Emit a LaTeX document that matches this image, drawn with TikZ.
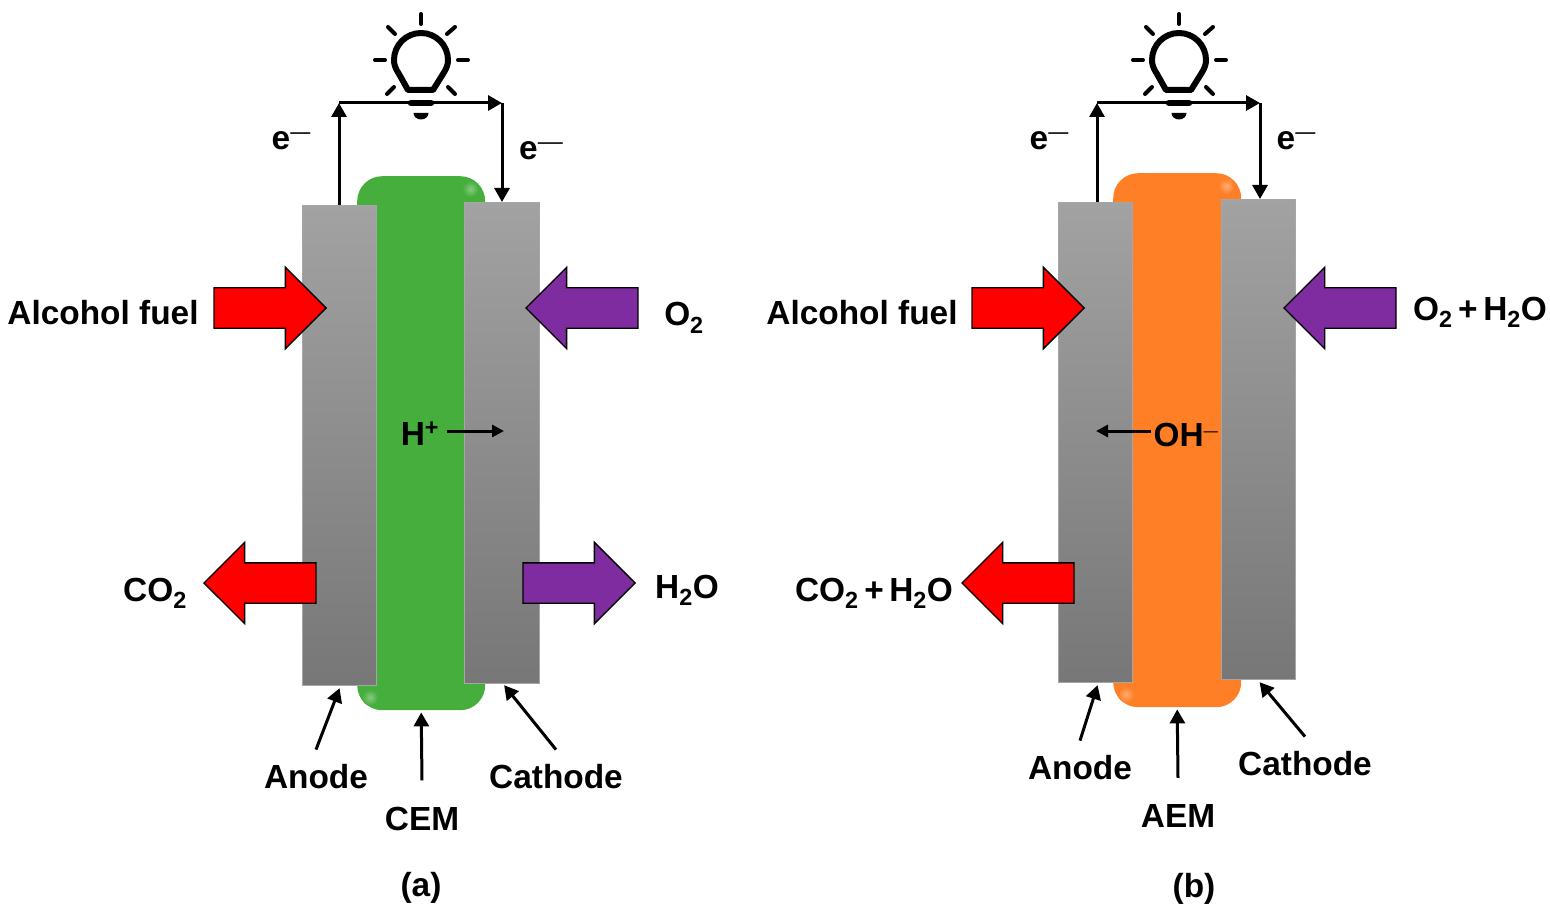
\documentclass[tikz,border=0pt]{standalone}
\usepackage{fontspec}
\setmainfont{Liberation Sans}
\usetikzlibrary{arrows.meta,shapes.arrows,calc}
\newcommand{\emin}{\raisebox{.3em}{\fontseries{m}\selectfont\scalebox{.6}[.7]{—}}}
\newcommand{\ebig}{\raisebox{.3em}{\fontseries{m}\selectfont\scalebox{.75}[.7]{—}}}
\newcommand{\bulb}[2]{%
 \begin{scope}[shift={(#1,#2)}]
  \draw[bulbline,line width=6pt,line join=round] (-13,30) -- (12,30) -- (22,14) .. controls (26,8) and (27,4) .. (27,0) arc[start angle=0,end angle=-180,radius=27] .. controls (-27,4) and (-26,8) .. (-22,14) -- cycle;
  \draw[bulbline] (0,-46) -- (0,-36);
  \draw[bulbline] (-46,0) -- (-36,0);
  \draw[bulbline] (37,0) -- (47,0);
  \draw[bulbline] (-33,-33) -- (-26,-26);
  \draw[bulbline] (26,-26) -- (34,-33);
  \draw[bulbline] (-34,34) -- (-27,27);
  \draw[bulbline] (27,27) -- (34,34);
  \draw[bulbline,line width=6.5pt] (-10,43) -- (10,43);
  \fill (-7.5,53) -- (7.5,53) arc[start angle=0,end angle=180,x radius=7.5,y radius=6.5] -- cycle;
 \end{scope}}
\newcommand{\glint}[2]{\shade[inner color=white!35!#2,outer color=#2] (#1) circle[radius=8pt];}
\tikzset{
 x=1pt,y=-1pt,
 bulbline/.style={line width=4pt,line cap=round,black},
 membrane/.style={rectangle,rounded corners=25pt,minimum width=128pt,minimum height=534pt,inner sep=0pt,anchor=north west,fill=#1},
 electrode/.style={rectangle,draw=gray!70!white,line width=.8pt,top color=ElTop,bottom color=ElBot,minimum width=74.4pt,minimum height=480.4pt,inner sep=0pt,anchor=north west},
 wire/.style={line width=3pt,-{Triangle[length=14pt,width=15pt]},black},
 block/.style={single arrow,single arrow head extend=20.5pt,inner xsep=0pt,inner ysep=19.5pt,minimum height=112pt,draw=black,line width=1.4pt,anchor=tip},
 lbl/.style={anchor=base,font=\fontsize{33.4}{36}\selectfont\bfseries,inner sep=0pt},
 toplbl/.style={lbl,inner ysep=14pt},
}
\definecolor{ElTop}{HTML}{A2A2A2}
\definecolor{ElBot}{HTML}{777777}
\definecolor{Grn}{HTML}{46AE3C}
\definecolor{Org}{HTML}{FF7F27}
\definecolor{Pur}{HTML}{7F2CA0}
\definecolor{Rd}{HTML}{FF0000}
\begin{document}
\begin{tikzpicture}
\useasboundingbox (0,0) rectangle (1550,909);
% ---------- panel a
\node[membrane=Grn] (memA) at (357,176) {};
\glint{$(memA.north east)+(-15,13)$}{Grn}
\glint{$(memA.south west)+(13,-13)$}{Grn}
\node[electrode] (anA) at (302,205) {};
\node[electrode,minimum width=75.4pt,minimum height=481.4pt] (caA) at (464,202) {};
\bulb{421}{60}
\coordinate (wA1) at (339,103);
\coordinate (wA2) at (502,103);
\draw[wire] (wA1 |- anA.north) -- (wA1);
\draw[wire] (wA1) -- (wA2);
\draw[wire] (wA2) -- (wA2 |- caA.north);
\node[lbl] (eA1) at (291,150) {e\emin};
\node[lbl] (eA2) at (541,160) {e\ebig};
\node[block,fill=Rd] (a1) at (327,308) {};
\node[block,fill=Pur,shape border rotate=180] (a2) at (525,308) {};
\node[block,fill=Rd,shape border rotate=180] (a3) at (203,583) {};
\node[block,fill=Pur] (a4) at (636,583) {};
\node[lbl] (fuelA) at (103,324) {Alcohol fuel};
\node[lbl] (o2A) at (684,326) {O\textsubscript{2}};
\node[lbl] (co2A) at (155,601) {CO\textsubscript{2}};
\node[lbl] (h2oA) at (687,598) {H\textsubscript{2}O};
\node[lbl] (hp) at (420,445) {H\textsuperscript{+}};
\coordinate (hpEnd) at (504,431);
\draw[wire,-{Triangle[length=12pt,width=12pt]}] (hp.east |- hpEnd) ++(8,0) -- (hpEnd);
\node[toplbl] (anLA) at (316,788) {Anode};
\node[toplbl,inner ysep=26pt] (cemL) at (422,830) {CEM};
\node[toplbl] (caLA) at (556,788) {Cathode};
\node[lbl] (capA) at (421,896) {(a)};
\draw[wire] (anLA.north) -- ($(anA.south)+(0,2)$);
\draw[wire] (cemL.north) -- ($(memA.south)+(0,2)$);
\draw[wire] (caLA.north) -- ($(caA.south)+(2,1)$);
% ---------- panel b
\node[membrane=Org] (memB) at (1113,173) {};
\glint{$(memB.north east)+(-15,13)$}{Org}
\glint{$(memB.south west)+(13,-13)$}{Org}
\node[electrode] (anB) at (1058,202) {};
\node[electrode] (caB) at (1221,199) {};
\bulb{1179}{60}
\coordinate (wB1) at (1097,103);
\coordinate (wB2) at (1260,103);
\draw[wire] (wB1 |- anB.north) -- (wB1);
\draw[wire] (wB1) -- (wB2);
\draw[wire] (wB2) -- (wB2 |- caB.north);
\node[lbl] (eB1) at (1049,150) {e\emin};
\node[lbl] (eB2) at (1296,150) {e\emin};
\node[block,fill=Rd] (b1) at (1085,308) {};
\node[block,fill=Pur,shape border rotate=180] (b2) at (1283,308) {};
\node[block,fill=Rd,shape border rotate=180] (b3) at (961,583) {};
\node[lbl] (fuelB) at (862,324) {Alcohol fuel};
\node[lbl] (o2B) at (1480,320) {O\textsubscript{2}\,+\,H\textsubscript{2}O};
\node[lbl] (co2B) at (874,601) {CO\textsubscript{2}\,+\,H\textsubscript{2}O};
\node[lbl] (oh) at (1186,446) {OH\textsuperscript{\fontseries{m}\selectfont\scalebox{1.1}[.7]{–}}};
\coordinate (ohEnd) at (1096,431);
\draw[wire,-{Triangle[length=12pt,width=12pt]}] (oh.west |- ohEnd) ++(-2,0) -- (ohEnd);
\node[toplbl] (anLB) at (1080,779) {Anode};
\node[toplbl,inner ysep=26pt] (aemL) at (1178,827) {AEM};
\node[toplbl] (caLB) at (1305,775) {Cathode};
\node[lbl] (capB) at (1194,897) {(b)};
\draw[wire] (anLB.north) -- ($(anB.south)+(2,2)$);
\draw[wire] (aemL.north) -- ($(memB.south)+(0,2)$);
\draw[wire] (caLB.north) -- ($(caB.south)+(1,2)$);
\end{tikzpicture}
\end{document}
